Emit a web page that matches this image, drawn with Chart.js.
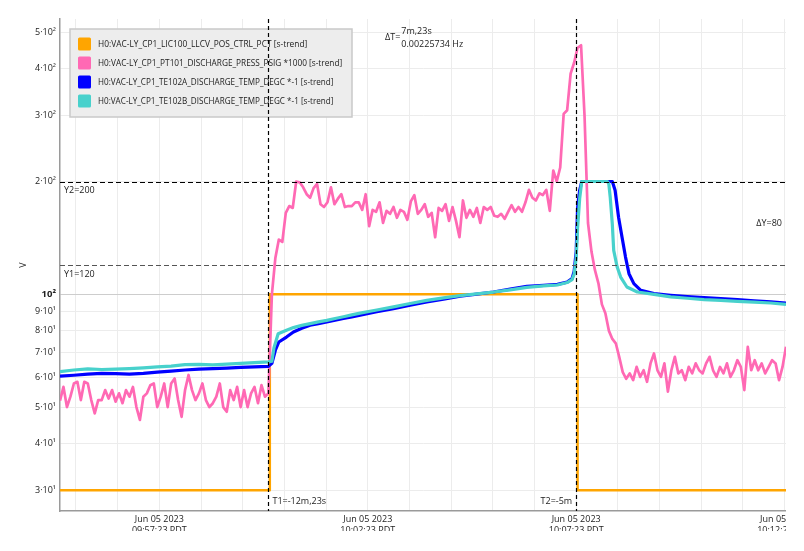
<!DOCTYPE html>
<html><head><meta charset="utf-8">
<script src="https://cdn.jsdelivr.net/npm/chart.js@4.4.1/dist/chart.umd.min.js"></script>
<style>
html,body{margin:0;padding:0;background:#fff;}
#wrap{width:804px;height:551px;background:#fff;}
canvas{display:block;}
</style>
</head><body><div id="wrap"><canvas id="c" width="786" height="531"></canvas></div>
<script>
// ---------- data (time in seconds after 09:55:00 PDT, Jun 05 2023) ----------
const seriesLabels = [
  'H0:VAC-LY_CP1_LIC100_LLCV_POS_CTRL_PCT [s-trend]',
  'H0:VAC-LY_CP1_PT101_DISCHARGE_PRESS_PSIG *1000 [s-trend]',
  'H0:VAC-LY_CP1_TE102A_DISCHARGE_TEMP_DEGC *-1 [s-trend]',
  'H0:VAC-LY_CP1_TE102B_DISCHARGE_TEMP_DEGC *-1 [s-trend]'
];
const seriesColors = ['#ffa500', '#ff69b4', '#0000ff', '#48d1cc'];

const orangeTimes = [0, 302, 302, 745, 745, 1045];
const orangeValues = [30, 30, 100, 100, 30, 30];

const pinkStart = 0, pinkStep = 5;
const pinkValues = [
  52.0, 56.6, 50.0, 53.3, 57.8, 58.4, 52.2, 58.4, 57.8, 52.2,
  48.1, 52.2, 52.2, 55.5, 52.7, 55.5, 51.7, 54.4, 51.2, 55.5,
  53.3, 56.6, 50.0, 46.2, 53.3, 54.4, 57.2, 57.8, 50.0, 53.3,
  57.8, 50.0, 57.8, 59.6, 52.2, 47.1, 55.5, 60.9, 55.5, 52.2,
  54.4, 57.8, 52.2, 50.0, 51.2, 53.3, 57.8, 50.0, 48.6, 55.5,
  52.2, 56.6, 50.0, 55.5, 50.0, 54.4, 56.6, 51.2, 57.2, 53.3,
  54.4,
  100, 125, 140, 138, 165, 172, 170, 200, 199, 193,
  185, 181, 192, 197, 174, 171, 176, 193, 174, 180,
  185, 171, 172, 172, 176, 176, 168, 185, 152, 168,
  166, 176, 155, 167, 164, 171, 160, 168, 166, 158,
  177, 184, 164, 168, 174, 161, 165, 142, 170, 167,
  174, 157, 171, 157, 142, 178, 160, 168, 161, 170,
  155,
  171, 168, 171, 162, 161, 164, 159, 166, 173, 166,
  171, 166, 176, 190, 181, 178, 186, 184, 190, 167,
  214, 200, 218, 303, 310, 388, 415, 455, 462, 300,
  155, 130, 116, 107, 94, 89, 80, 76, 74, 68,
  62, 59.5, 61.5, 59, 64, 60.2, 62.7, 58.4, 65.4, 69.5,
  62.7, 60.2, 65.4, 55, 62.7, 68.1, 61.5, 62.7, 59, 64,
  61.5, 65.4, 62.7, 61.5, 65.4, 68.1, 62.7, 60.2, 64, 61.5,
  65.4, 60.2, 62.7, 66.7, 64, 55.5, 72.4, 62.7, 66.7, 62.7,
  65.4, 61.5, 64, 66.7, 65.4, 59, 64, 72.4
];

const blueTimes = [0,20,40,60,80,100,120,140,160,180,200,220,240,260,280,300,
  305,310,315,326,336,348,360,372,384,396,408,420,432,
  456,480,504,528,552,576,600,624,648,672,696,
  716,730,737,740,743,745,748,751,
  795,799,804,809,814,819,826,836,
  855,879,903,927,951,975,999,1023,1045];
const blueValues = [60.5,60.8,61.2,61.5,61.4,61.2,61.5,62.0,62.4,62.8,63.1,63.3,63.5,63.8,64.0,64.2,
  65.4,70.9,74.6,76.9,79.3,81.2,82.7,83.5,84.4,85.3,86.2,87.0,87.9,
  89.8,91.6,93.5,95.4,97.1,98.8,100.1,101.4,103.2,105.0,105.7,
  106.3,107.8,110.1,115,130,170,189.5,200,
  200,189.5,160.6,142,125.7,113.5,106.8,102.5,
  100.4,99.4,98.6,98.0,97.4,96.8,96.1,95.4,94.8];

const cyanTimes = [0,20,40,60,80,100,120,140,160,180,200,220,240,260,280,300,
  305,308,314,326,336,348,360,372,384,396,408,420,432,
  456,480,504,528,552,576,600,624,648,672,696,
  716,730,737,740,743,745,748,751,
  788,790,792,795,797,802,807,816,831,
  855,879,903,927,951,975,999,1023,1045];
const cyanValues = [62.2,62.8,63.2,63.0,63.1,63.3,63.6,64.0,64.3,64.9,65.0,64.8,65.1,65.4,65.7,66.0,
  66.3,72,78.5,80.2,81.5,82.6,83.5,84.4,85.2,86.2,87.1,88.1,89.1,
  90.8,92.6,94.5,96.3,97.8,99.2,100.3,101.4,102.8,104.3,105.3,
  105.9,107.5,109.5,113,125,150,180,200,
  200,197,181.5,154,131,118.2,111.2,104.6,101.4,
  100,98.4,97.6,96.8,96.3,95.8,95.3,94.8,94.0];

const yTickValues = [30,40,50,60,70,80,90,100,200,300,400,500];
const xRange = [0, 1045];
const yRange = [26.4, 543];
const xTickFirst = 23, xTickEvery = 60, xLabelFirst = 143, xLabelEvery = 300;
const dateLabel = 'Jun 05 2023';

const cursorT1 = 300, cursorT2 = 743;
const cursorY1 = 120, cursorY2 = 200;
const cursorTexts = {
  t1: 'T1=-12m,23s', t2: 'T2=-5m',
  y1: 'Y1=120', y2: 'Y2=200', dy: 'ΔY=80',
  dtHead: 'ΔT=', dtLine1: '7m,23s', dtLine2: '0.00225734 Hz'
};
const yAxisTitle = 'V';

// ---------- helpers ----------
const FONT = "'Open Sans', 'Noto Sans', sans-serif";
const zip = (ts, vs) => vs.map((v, i) => ({x: ts[i], y: v}));
const pinkData = pinkValues.map((v, i) => ({x: pinkStart + i * pinkStep, y: v}));
const sup = {'1': '¹', '2': '²', '3': '³'};
function fmtLog(v) {
  const e = Math.floor(Math.log10(v) + 1e-9);
  const m = Math.round(v / Math.pow(10, e));
  return (m === 1 ? '' : m + '·') + '10' + sup[e];
}
function fmtTime(t) {
  const s = 9 * 3600 + 55 * 60 + t;
  const p = n => String(n).padStart(2, '0');
  return p(Math.floor(s / 3600)) + ':' + p(Math.floor(s / 60) % 60) + ':' + p(s % 60) + ' PDT';
}

const overlay = {
  id: 'overlay',
  afterDatasetsDraw(chart) {
    const {ctx, chartArea: a, scales: {x, y}} = chart;
    ctx.save();
    // legend box
    const lx = a.left + 10, ly = a.top + 10, lw = 282, lh = 88;
    ctx.fillStyle = 'rgba(236,236,236,0.97)';
    ctx.fillRect(lx, ly, lw, lh);
    ctx.strokeStyle = '#c9c9c9';
    ctx.lineWidth = 1.5;
    ctx.strokeRect(lx, ly, lw, lh);
    ctx.font = '9.5px ' + FONT;
    ctx.textBaseline = 'middle';
    ctx.textAlign = 'left';
    seriesLabels.forEach((lab, i) => {
      const cy = ly + 15 + i * 19;
      ctx.fillStyle = seriesColors[i];
      ctx.beginPath();
      ctx.roundRect(lx + 8, cy - 6.5, 13, 13, 1.5);
      ctx.fill();
      ctx.fillStyle = '#222';
      ctx.fillText(lab, lx + 28, cy + 0.5, lab.length * 4.36);
    });

    // cursors
    const x1 = x.getPixelForValue(cursorT1), x2 = x.getPixelForValue(cursorT2);
    const y1 = y.getPixelForValue(cursorY1), y2 = y.getPixelForValue(cursorY2);
    ctx.lineWidth = 1.2;
    ctx.setLineDash([4, 3]);
    ctx.strokeStyle = '#000';
    [x1, x2].forEach(px => {
      ctx.beginPath(); ctx.moveTo(Math.round(px) + 0.5, a.top); ctx.lineTo(Math.round(px) + 0.5, a.bottom); ctx.stroke();
    });
    ctx.setLineDash([5, 3]);
    ctx.beginPath(); ctx.moveTo(a.left, Math.round(y2) + 0.5); ctx.lineTo(a.right, Math.round(y2) + 0.5); ctx.stroke();
    ctx.strokeStyle = '#555';
    ctx.beginPath(); ctx.moveTo(a.left, Math.round(y1) + 0.5); ctx.lineTo(a.right, Math.round(y1) + 0.5); ctx.stroke();
    ctx.setLineDash([]);

    ctx.fillStyle = '#222';
    ctx.font = '9px ' + FONT;
    ctx.textBaseline = 'middle';
    ctx.textAlign = 'left';
    ctx.fillText(cursorTexts.y2, a.left + 4, y2 + 9);
    ctx.fillText(cursorTexts.y1, a.left + 4, y1 + 10);
    ctx.fillText(cursorTexts.t1, x1 + 4, a.bottom - 10);
    ctx.textAlign = 'right';
    ctx.fillText(cursorTexts.t2, x2 - 4, a.bottom - 10);
    ctx.fillText(cursorTexts.dy, a.right - 4, (y1 + y2) / 2);
    const xm = (x1 + x2) / 2;
    ctx.fillText(cursorTexts.dtHead, xm - 22, a.top + 18.5);
    ctx.textAlign = 'left';
    ctx.fillText(cursorTexts.dtLine1, xm - 21, a.top + 12);
    ctx.fillText(cursorTexts.dtLine2, xm - 21, a.top + 25);

    // y axis title
    ctx.save();
    ctx.translate(23, (a.top + a.bottom) / 2);
    ctx.rotate(-Math.PI / 2);
    ctx.textAlign = 'center';
    ctx.fillText(yAxisTitle, 0, 0);
    ctx.restore();
    ctx.restore();
  }
};

new Chart(document.getElementById('c'), {
  type: 'line',
  data: {
    datasets: [
      {label: seriesLabels[0], data: zip(orangeTimes, orangeValues), borderColor: seriesColors[0], borderWidth: 2.5, order: 4},
      {label: seriesLabels[1], data: pinkData, borderColor: seriesColors[1], borderWidth: 2.7, order: 3},
      {label: seriesLabels[2], data: zip(blueTimes, blueValues), borderColor: seriesColors[2], borderWidth: 3.2, order: 2},
      {label: seriesLabels[3], data: zip(cyanTimes, cyanValues), borderColor: seriesColors[3], borderWidth: 3.2, order: 1}
    ]
  },
  options: {
    responsive: false,
    devicePixelRatio: 1,
    animation: false,
    layout: {padding: {top: 19, right: 0, left: 0, bottom: 0}},
    elements: {point: {radius: 0}, line: {tension: 0, borderJoinStyle: 'round'}},
    plugins: {legend: {display: false}, tooltip: {enabled: false}},
    scales: {
      x: {
        type: 'linear', min: xRange[0], max: xRange[1],
        border: {display: true, color: '#9a9a9a', width: 1.5},
        grid: {color: '#ececec', drawTicks: false},
        afterBuildTicks: s => {
          const t = [];
          for (let v = xTickFirst; v <= xRange[1]; v += xTickEvery) t.push({value: v});
          s.ticks = t;
        },
        afterFit: s => { s.height = 20; s.paddingLeft = 0; s.paddingRight = 0; },
        ticks: {
          autoSkip: false, maxRotation: 0, padding: 3, color: '#222',
          font: {family: FONT, size: 9, lineHeight: 1.2},
          callback: v => ((v - xLabelFirst) % xLabelEvery === 0 ? [dateLabel, fmtTime(v)] : '')
        }
      },
      y: {
        type: 'logarithmic', min: yRange[0], max: yRange[1],
        border: {display: true, color: '#9a9a9a', width: 1.5},
        grid: {color: c => (c.tick && c.tick.value === 100 ? '#cdcdcd' : '#ececec'), drawTicks: false},
        afterBuildTicks: s => { s.ticks = yTickValues.map(v => ({value: v, major: v === 100})); },
        afterFit: s => { s.width = 60; s.paddingTop = 0; s.paddingBottom = 0; },
        ticks: {
          padding: 4, color: '#222',
          font: c => ({family: FONT, size: (c.tick && c.tick.value === 100) ? 9.5 : 9, weight: (c.tick && c.tick.value === 100) ? 'bold' : 'normal'}),
          callback: v => fmtLog(v)
        }
      }
    }
  },
  plugins: [overlay]
});
</script></body></html>
